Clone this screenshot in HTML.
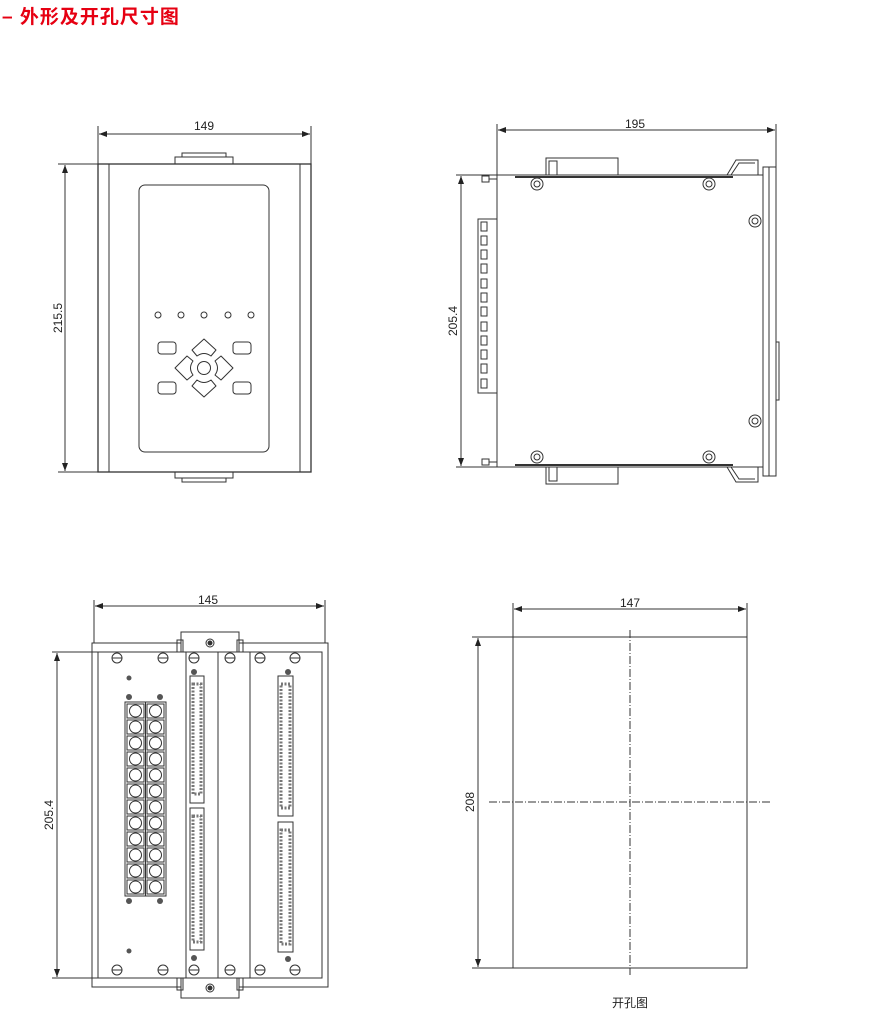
<!DOCTYPE html>
<html><head><meta charset="utf-8"><style>
body{margin:0;background:#fff;width:872px;height:1017px;overflow:hidden;position:relative}
.t{position:absolute;left:2px;top:2px;font:bold 19px "Liberation Sans","Noto Sans CJK SC",sans-serif;color:#e60012;letter-spacing:1px}
svg{position:absolute;left:0;top:0}
text{font-family:"Liberation Sans","Noto Sans CJK SC",sans-serif;font-size:12px;fill:#222}
</style></head><body>
<div class="t">– 外形及开孔尺寸图</div>
<svg width="872" height="1017" viewBox="0 0 872 1017" fill="none" stroke="#333" stroke-width="1">
<defs><marker id="a" viewBox="0 0 8 6" refX="8" refY="3" markerWidth="8" markerHeight="6" orient="auto-start-reverse"><path d="M0,0 L8,3 L0,6z" fill="#222" stroke="none"/></marker></defs>
<!-- View 1 -->
<line x1="98" y1="126" x2="98" y2="164"/><line x1="311" y1="126" x2="311" y2="164"/>
<line x1="99" y1="134" x2="310" y2="134" marker-start="url(#a)" marker-end="url(#a)"/>
<text x="204" y="130" text-anchor="middle" stroke="none">149</text>
<line x1="58" y1="164" x2="98" y2="164"/><line x1="58" y1="472" x2="98" y2="472"/>
<line x1="65" y1="165" x2="65" y2="471" marker-start="url(#a)" marker-end="url(#a)"/>
<text transform="translate(62,318) rotate(-90)" text-anchor="middle" stroke="none">215.5</text>
<rect x="98" y="164" width="213" height="308" stroke-width="1.3"/>
<line x1="109" y1="164" x2="109" y2="472"/><line x1="300" y1="164" x2="300" y2="472"/>
<rect x="175" y="157" width="58" height="7"/><rect x="182" y="153" width="44" height="4"/>
<rect x="175" y="472" width="58" height="6"/><rect x="182" y="478" width="44" height="4"/>
<rect x="139" y="185" width="130" height="267" rx="6"/>
<g><circle cx="158" cy="315" r="3"/><circle cx="181" cy="315" r="3"/><circle cx="204" cy="315" r="3"/><circle cx="228" cy="315" r="3"/><circle cx="251" cy="315" r="3"/></g>
<rect x="158" y="342" width="18" height="12" rx="3"/><rect x="233" y="342" width="18" height="12" rx="3"/>
<rect x="158" y="382" width="18" height="12" rx="3"/><rect x="233" y="382" width="18" height="12" rx="3"/>
<circle cx="204" cy="368" r="6.5"/>
<path d="M204,339 L216,350 L211,356 Q204,351 197,356 L192,350Z" stroke-linejoin="round"/>
<path d="M204,397 L216,386 L211,380 Q204,385 197,380 L192,386Z" stroke-linejoin="round"/>
<path d="M175,368 L187,356 L193,361 Q188,368 193,375 L187,380Z" stroke-linejoin="round"/>
<path d="M233,368 L221,356 L215,361 Q220,368 215,375 L221,380Z" stroke-linejoin="round"/>
<!-- View 2 -->
<line x1="497" y1="124" x2="497" y2="175"/><line x1="776" y1="124" x2="776" y2="167"/>
<line x1="498" y1="130" x2="775" y2="130" marker-start="url(#a)" marker-end="url(#a)"/>
<text x="635" y="128" text-anchor="middle" stroke="none">195</text>
<line x1="456" y1="175" x2="497" y2="175"/><line x1="456" y1="467" x2="497" y2="467"/>
<line x1="461" y1="176" x2="461" y2="466" marker-start="url(#a)" marker-end="url(#a)"/>
<text transform="translate(457,321) rotate(-90)" text-anchor="middle" stroke="none">205.4</text>
<rect x="497" y="175" width="266" height="292"/>
<line x1="515" y1="177" x2="733" y2="177" stroke-width="2"/><line x1="515" y1="465" x2="733" y2="465" stroke-width="2"/>
<rect x="763" y="167" width="13" height="309"/><line x1="769" y1="167" x2="769" y2="476"/>
<rect x="776" y="342" width="3" height="58"/>
<rect x="478" y="219" width="19" height="174"/>
<g><rect x="481" y="222" width="6" height="9"/><rect x="481" y="236" width="6" height="9"/><rect x="481" y="250" width="6" height="9"/><rect x="481" y="264" width="6" height="9"/><rect x="481" y="279" width="6" height="9"/><rect x="481" y="293" width="6" height="9"/><rect x="481" y="307" width="6" height="9"/><rect x="481" y="322" width="6" height="9"/><rect x="481" y="336" width="6" height="9"/><rect x="481" y="350" width="6" height="9"/><rect x="481" y="364" width="6" height="9"/><rect x="481" y="379" width="6" height="9"/></g>
<rect x="482" y="176" width="7" height="6"/><rect x="482" y="459" width="7" height="6"/>
<line x1="489" y1="179" x2="497" y2="179"/><line x1="489" y1="462" x2="497" y2="462"/>
<g><circle cx="537" cy="184" r="6"/><circle cx="537" cy="184" r="3"/><circle cx="709" cy="184" r="6"/><circle cx="709" cy="184" r="3"/><circle cx="755" cy="221" r="6"/><circle cx="755" cy="221" r="3"/><circle cx="755" cy="421" r="6"/><circle cx="755" cy="421" r="3"/><circle cx="537" cy="457" r="6"/><circle cx="537" cy="457" r="3"/><circle cx="709" cy="457" r="6"/><circle cx="709" cy="457" r="3"/></g>
<path d="M546,175 V158 H618 V175"/><path d="M549,175 V161 H557 V175"/>
<path d="M546,467 V484 H618 V467"/><path d="M549,467 V481 H557 V467"/>
<path d="M727,175 L736,160 H758 V175 M731,175 L739,163 H755"/>
<path d="M727,467 L736,482 H758 V467 M731,467 L739,479 H755"/>
<!-- View 3 -->
<line x1="94" y1="600" x2="94" y2="643"/><line x1="325" y1="600" x2="325" y2="643"/>
<line x1="95" y1="606" x2="324" y2="606" marker-start="url(#a)" marker-end="url(#a)"/>
<text x="208" y="604" text-anchor="middle" stroke="none">145</text>
<line x1="52" y1="652" x2="98" y2="652"/><line x1="52" y1="978" x2="98" y2="978"/>
<line x1="57" y1="653" x2="57" y2="977" marker-start="url(#a)" marker-end="url(#a)"/>
<text transform="translate(53,815) rotate(-90)" text-anchor="middle" stroke="none">205.4</text>
<rect x="92" y="643" width="236" height="344"/>
<rect x="98" y="652" width="224" height="326"/>
<line x1="186" y1="652" x2="186" y2="978"/><line x1="218" y1="652" x2="218" y2="978"/><line x1="250" y1="652" x2="250" y2="978"/>
<rect x="181" y="632" width="58" height="20" fill="#fff"/><rect x="177" y="640" width="6" height="12"/><rect x="237" y="640" width="6" height="12"/><circle cx="210" cy="643" r="4"/><circle cx="210" cy="643" r="2" fill="#333"/>
<rect x="181" y="978" width="58" height="20" fill="#fff"/><rect x="177" y="978" width="6" height="12"/><rect x="237" y="978" width="6" height="12"/><circle cx="210" cy="988" r="4"/><circle cx="210" cy="988" r="2" fill="#333"/>
<g id="sc"><circle cx="117" cy="658" r="5"/><circle cx="163" cy="658" r="5"/><circle cx="194" cy="658" r="5"/><circle cx="230" cy="658" r="5"/><circle cx="260" cy="658" r="5"/><circle cx="295" cy="658" r="5"/>
<line x1="112" y1="658" x2="122" y2="658"/><line x1="158" y1="658" x2="168" y2="658"/><line x1="189" y1="658" x2="199" y2="658"/><line x1="225" y1="658" x2="235" y2="658"/><line x1="255" y1="658" x2="265" y2="658"/><line x1="290" y1="658" x2="300" y2="658"/></g>
<use href="#sc" transform="translate(0,312)"/>
<g fill="#555" stroke="none"><circle cx="129" cy="678" r="2.5"/><circle cx="129" cy="951" r="2.5"/><circle cx="129" cy="697" r="3"/><circle cx="160" cy="697" r="3"/><circle cx="129" cy="901" r="3"/><circle cx="160" cy="901" r="3"/><circle cx="194" cy="672" r="3"/><circle cx="194" cy="958" r="3"/><circle cx="288" cy="672" r="3"/><circle cx="288" cy="959" r="3"/></g>
<rect x="125" y="702" width="41" height="194"/><line x1="145.5" y1="702" x2="145.5" y2="896"/>
<g id="tr"><rect x="127" y="704" width="17" height="14"/><rect x="147" y="704" width="17" height="14"/><circle cx="135.5" cy="711" r="6"/><circle cx="155.5" cy="711" r="6"/></g>
<use href="#tr" transform="translate(0,16)"/><use href="#tr" transform="translate(0,32)"/><use href="#tr" transform="translate(0,48)"/><use href="#tr" transform="translate(0,64)"/><use href="#tr" transform="translate(0,80)"/><use href="#tr" transform="translate(0,96)"/><use href="#tr" transform="translate(0,112)"/><use href="#tr" transform="translate(0,128)"/><use href="#tr" transform="translate(0,144)"/><use href="#tr" transform="translate(0,160)"/><use href="#tr" transform="translate(0,176)"/>
<rect x="190" y="676" width="14" height="127"/><rect x="193" y="684" width="8" height="110" stroke-dasharray="2 1.5" stroke-width="3" stroke="#777"/>
<rect x="190" y="808" width="14" height="142"/><rect x="193" y="816" width="8" height="126" stroke-dasharray="2 1.5" stroke-width="3" stroke="#777"/>
<rect x="278" y="676" width="15" height="140"/><rect x="281" y="684" width="9" height="124" stroke-dasharray="2 1.5" stroke-width="3" stroke="#777"/>
<rect x="278" y="822" width="15" height="130"/><rect x="281" y="830" width="9" height="114" stroke-dasharray="2 1.5" stroke-width="3" stroke="#777"/>
<!-- View 4 -->
<line x1="513" y1="603" x2="513" y2="968"/><line x1="747" y1="603" x2="747" y2="637"/>
<line x1="514" y1="609" x2="746" y2="609" marker-start="url(#a)" marker-end="url(#a)"/>
<text x="630" y="607" text-anchor="middle" stroke="none">147</text>
<rect x="513" y="637" width="234" height="331"/>
<line x1="472" y1="637" x2="513" y2="637"/><line x1="472" y1="968" x2="513" y2="968"/>
<line x1="478" y1="638" x2="478" y2="967" marker-start="url(#a)" marker-end="url(#a)"/>
<text transform="translate(474,802) rotate(-90)" text-anchor="middle" stroke="none">208</text>
<line x1="630" y1="630" x2="630" y2="975" stroke-dasharray="8 2 1 2"/>
<line x1="489" y1="802" x2="772" y2="802" stroke-dasharray="8 2 1 2"/>
<text x="630" y="1007" text-anchor="middle" stroke="none" font-size="11">开孔图</text>
</svg>
</body></html>
